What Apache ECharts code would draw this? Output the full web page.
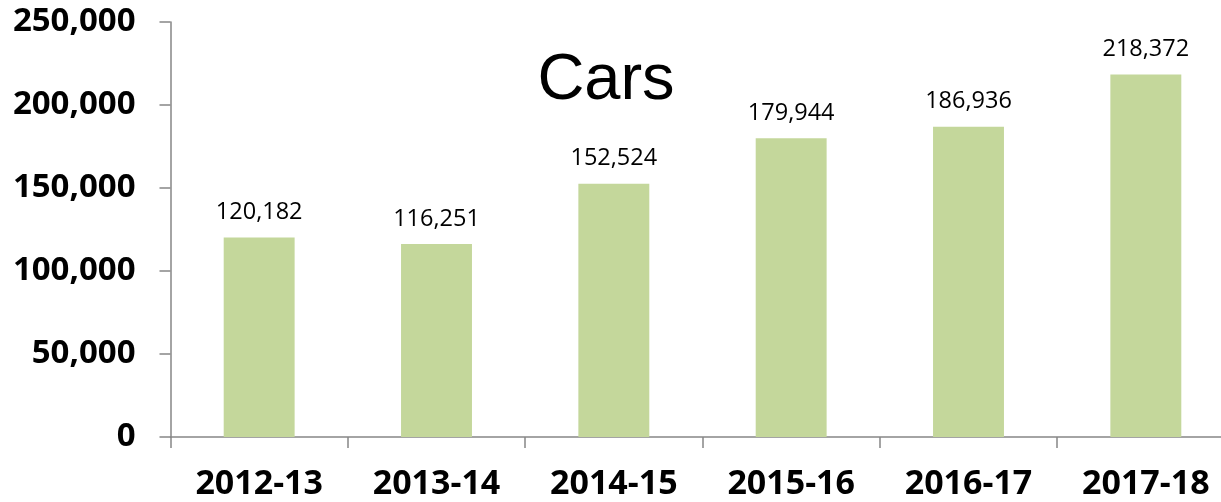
<!DOCTYPE html>
<html><head><meta charset="utf-8">
<script src="https://cdn.jsdelivr.net/npm/echarts@6/dist/echarts.min.js"></script>
<style>html,body{margin:0;padding:0;background:#fff;overflow:hidden;width:1221px;height:502px}#c{width:1240px;height:502px}</style>
</head><body><div id="c"></div>
<script>
const categories = ['2012-13','2013-14','2014-15','2015-16','2016-17','2017-18'];
const carValues = [120182, 116251, 152524, 179944, 186936, 218372];
const yTicks = [0, 50000, 100000, 150000, 200000, 250000];
const titleText = 'Cars';

const fmt = v => v.toLocaleString('en-US');
const chart = echarts.init(document.getElementById('c'), null, {renderer:'canvas'});
chart.setOption({
  animation:false,
  backgroundColor:'#fff',
  title:{text:titleText,left:601,top:44,textAlign:'center',
    textStyle:{fontFamily:'Liberation Sans',fontWeight:'normal',fontSize:65,color:'#000'}},
  grid:{left:170.5,top:22,right:5.5,bottom:65,containLabel:false},
  xAxis:{type:'category',data:categories,
    axisLine:{lineStyle:{color:'#868686',width:1.5}},
    axisTick:{show:true,length:11,lineStyle:{color:'#868686',width:1.5}},
    axisLabel:{margin:30,color:'#000',fontFamily:'Open Sans',fontWeight:'bold',fontSize:34}},
  yAxis:{type:'value',min:yTicks[0],max:yTicks[yTicks.length-1],interval:yTicks[1]-yTicks[0],
    axisLine:{show:true,lineStyle:{color:'#868686',width:1.5}},
    axisTick:{show:true,length:11,lineStyle:{color:'#868686',width:1.5}},
    splitLine:{show:false},
    axisLabel:{margin:35,color:'#000',fontFamily:'Open Sans',fontWeight:'bold',fontSize:33,
      formatter:v=>fmt(v)}},
  series:[{type:'bar',data:carValues,barWidth:'40%',
    itemStyle:{color:'#C4D79B'},
    label:{show:true,position:'top',distance:13,color:'#000',fontFamily:'Open Sans',fontSize:23.5,
      formatter:p=>fmt(p.value)}}]
});
</script></body></html>
